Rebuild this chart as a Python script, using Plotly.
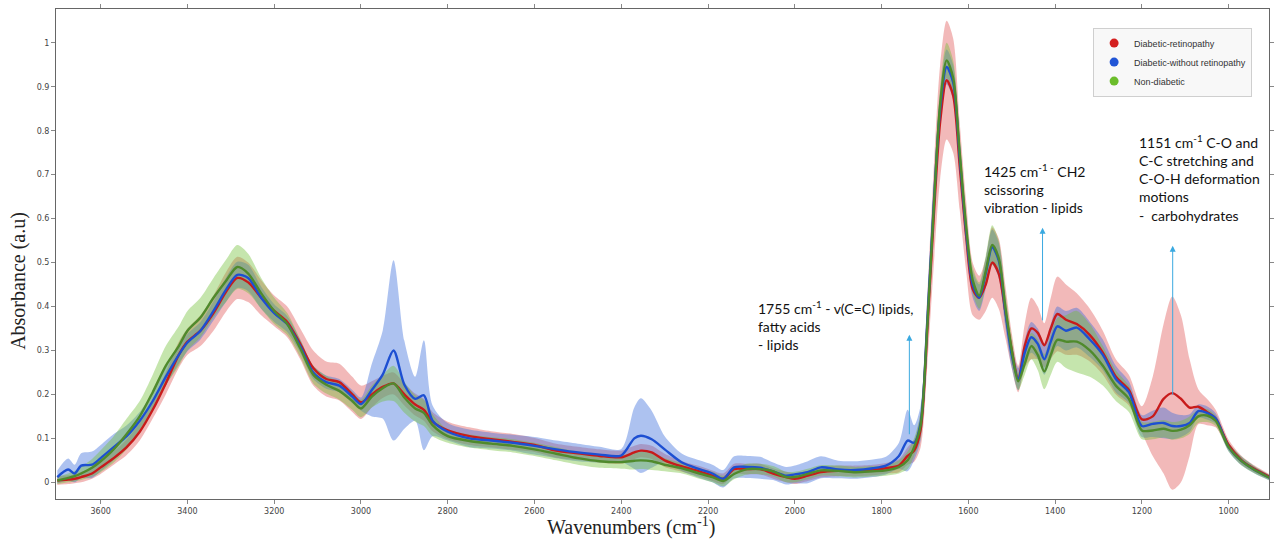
import plotly.graph_objects as go

# ---------------- data ----------------
WAVENUMBERS = [
    3700, 3675, 3660, 3645, 3620, 3600, 3570, 3540, 3510, 3480,
    3450, 3420, 3400, 3370, 3340, 3310, 3285, 3260, 3230, 3200,
    3170, 3140, 3110, 3080, 3050, 3020, 3000, 2975, 2950, 2925,
    2900, 2875, 2855, 2835, 2800, 2750, 2700, 2650, 2600, 2550,
    2500, 2450, 2400, 2370, 2355, 2330, 2300, 2260, 2220, 2190,
    2165, 2140, 2110, 2080, 2050, 2020, 2000, 1970, 1940, 1900,
    1860, 1820, 1790, 1760, 1740, 1725, 1710, 1695, 1680, 1665,
    1650, 1635, 1620, 1605, 1590, 1575, 1560, 1545, 1530, 1515,
    1500, 1485, 1470, 1455, 1440, 1425, 1410, 1395, 1375, 1350,
    1320, 1290, 1260, 1230, 1200, 1175, 1150, 1130, 1110, 1090,
    1070, 1050, 1030, 1000, 970, 940, 905,
]

retino_mean = [
    0.004, 0.006, 0.008, 0.012, 0.020, 0.034, 0.055, 0.080, 0.115, 0.165,
    0.225, 0.290, 0.320, 0.345, 0.385, 0.435, 0.465, 0.455, 0.420, 0.390,
    0.365, 0.315, 0.260, 0.235, 0.228, 0.200, 0.182, 0.200, 0.217, 0.225,
    0.200, 0.177, 0.165, 0.138, 0.118, 0.105, 0.098, 0.092, 0.085, 0.072,
    0.066, 0.060, 0.057, 0.068, 0.072, 0.068, 0.050, 0.036, 0.025, 0.015,
    0.008, 0.030, 0.030, 0.030, 0.020, 0.012, 0.008, 0.015, 0.023, 0.026,
    0.026, 0.028, 0.032, 0.038, 0.060, 0.072, 0.120, 0.340, 0.600, 0.820,
    0.915, 0.880, 0.720, 0.560, 0.440, 0.420, 0.450, 0.500, 0.475, 0.390,
    0.300, 0.235, 0.310, 0.350, 0.340, 0.312, 0.350, 0.383, 0.370, 0.360,
    0.335, 0.295, 0.240, 0.210, 0.143, 0.150, 0.190, 0.203, 0.190, 0.170,
    0.172, 0.160, 0.145, 0.085, 0.050, 0.030, 0.012,
]
retino_sd = [
    0.010, 0.010, 0.010, 0.012, 0.012, 0.015, 0.015, 0.018, 0.020, 0.020,
    0.025, 0.030, 0.030, 0.035, 0.040, 0.045, 0.048, 0.045, 0.040, 0.035,
    0.035, 0.035, 0.040, 0.040, 0.042, 0.040, 0.038, 0.030, 0.025, 0.025,
    0.025, 0.025, 0.025, 0.022, 0.020, 0.020, 0.018, 0.018, 0.016, 0.016,
    0.015, 0.015, 0.015, 0.015, 0.015, 0.015, 0.015, 0.012, 0.012, 0.012,
    0.012, 0.012, 0.012, 0.012, 0.012, 0.012, 0.012, 0.012, 0.012, 0.012,
    0.012, 0.012, 0.012, 0.015, 0.020, 0.025, 0.040, 0.080, 0.110, 0.130,
    0.135, 0.130, 0.100, 0.080, 0.060, 0.050, 0.060, 0.080, 0.080, 0.060,
    0.040, 0.030, 0.050, 0.070, 0.060, 0.050, 0.070, 0.085, 0.080, 0.070,
    0.060, 0.050, 0.040, 0.035, 0.030, 0.090, 0.170, 0.220, 0.190, 0.110,
    0.040, 0.030, 0.020, 0.012, 0.010, 0.008, 0.006,
]

without_mean = [
    0.012, 0.029, 0.020, 0.038, 0.040, 0.055, 0.080, 0.105, 0.140, 0.185,
    0.240, 0.290, 0.318, 0.345, 0.390, 0.440, 0.472, 0.465, 0.420, 0.385,
    0.360, 0.310, 0.250, 0.228, 0.220, 0.195, 0.178, 0.210, 0.245, 0.300,
    0.222, 0.190, 0.198, 0.140, 0.115, 0.100, 0.095, 0.090, 0.083, 0.075,
    0.068, 0.063, 0.061, 0.100, 0.106, 0.098, 0.075, 0.045, 0.030, 0.020,
    0.008, 0.034, 0.035, 0.033, 0.025, 0.015, 0.018, 0.023, 0.034, 0.029,
    0.028, 0.032, 0.038, 0.060, 0.095, 0.090, 0.135, 0.360, 0.630, 0.850,
    0.945, 0.910, 0.740, 0.570, 0.450, 0.420, 0.475, 0.535, 0.505, 0.390,
    0.290, 0.235, 0.295, 0.330, 0.315, 0.280, 0.320, 0.355, 0.345, 0.352,
    0.325, 0.290, 0.235, 0.205, 0.128, 0.133, 0.135, 0.128, 0.128, 0.135,
    0.162, 0.158, 0.145, 0.080, 0.048, 0.028, 0.010,
]
without_sd = [
    0.015, 0.025, 0.020, 0.028, 0.030, 0.030, 0.030, 0.025, 0.020, 0.020,
    0.020, 0.020, 0.020, 0.020, 0.022, 0.028, 0.030, 0.030, 0.025, 0.020,
    0.018, 0.015, 0.015, 0.015, 0.015, 0.015, 0.015, 0.060, 0.100, 0.205,
    0.100, 0.050, 0.125, 0.035, 0.020, 0.020, 0.018, 0.018, 0.020, 0.020,
    0.020, 0.018, 0.015, 0.070, 0.085, 0.065, 0.030, 0.020, 0.020, 0.020,
    0.020, 0.025, 0.025, 0.025, 0.020, 0.020, 0.020, 0.025, 0.025, 0.020,
    0.020, 0.020, 0.020, 0.030, 0.070, 0.040, 0.040, 0.040, 0.040, 0.040,
    0.040, 0.040, 0.040, 0.035, 0.030, 0.030, 0.035, 0.040, 0.040, 0.035,
    0.030, 0.025, 0.030, 0.035, 0.035, 0.035, 0.040, 0.045, 0.045, 0.045,
    0.040, 0.035, 0.030, 0.025, 0.025, 0.030, 0.035, 0.030, 0.025, 0.020,
    0.015, 0.015, 0.012, 0.010, 0.010, 0.008, 0.006,
]

nondiab_mean = [
    0.004, 0.010, 0.014, 0.020, 0.033, 0.048, 0.075, 0.110, 0.150, 0.205,
    0.265, 0.310, 0.345, 0.375, 0.420, 0.460, 0.490, 0.475, 0.430, 0.390,
    0.360, 0.305, 0.245, 0.222, 0.208, 0.185, 0.168, 0.195, 0.214, 0.225,
    0.193, 0.168, 0.158, 0.130, 0.105, 0.094, 0.088, 0.083, 0.075, 0.065,
    0.055, 0.048, 0.046, 0.049, 0.050, 0.048, 0.040, 0.032, 0.020, 0.012,
    0.003, 0.019, 0.030, 0.030, 0.025, 0.012, 0.012, 0.019, 0.027, 0.026,
    0.023, 0.025, 0.027, 0.035, 0.050, 0.080, 0.130, 0.350, 0.620, 0.860,
    0.960, 0.920, 0.750, 0.580, 0.460, 0.425, 0.480, 0.540, 0.510, 0.400,
    0.300, 0.230, 0.270, 0.310, 0.290, 0.252, 0.290, 0.324, 0.320, 0.320,
    0.300, 0.265, 0.220, 0.190, 0.118, 0.118, 0.122, 0.117, 0.120, 0.130,
    0.150, 0.152, 0.140, 0.080, 0.048, 0.028, 0.010,
]
nondiab_sd = [
    0.008, 0.010, 0.012, 0.015, 0.020, 0.025, 0.030, 0.035, 0.035, 0.040,
    0.045, 0.045, 0.045, 0.045, 0.045, 0.048, 0.050, 0.045, 0.035, 0.030,
    0.025, 0.020, 0.020, 0.020, 0.020, 0.020, 0.020, 0.025, 0.030, 0.040,
    0.035, 0.030, 0.030, 0.025, 0.015, 0.015, 0.015, 0.015, 0.015, 0.015,
    0.015, 0.015, 0.015, 0.020, 0.020, 0.020, 0.015, 0.012, 0.012, 0.012,
    0.012, 0.012, 0.012, 0.012, 0.012, 0.012, 0.012, 0.012, 0.012, 0.012,
    0.012, 0.012, 0.012, 0.015, 0.020, 0.020, 0.030, 0.040, 0.040, 0.040,
    0.040, 0.040, 0.040, 0.035, 0.030, 0.030, 0.035, 0.045, 0.040, 0.035,
    0.030, 0.020, 0.025, 0.030, 0.035, 0.040, 0.045, 0.050, 0.060, 0.070,
    0.060, 0.045, 0.035, 0.030, 0.020, 0.020, 0.020, 0.020, 0.020, 0.020,
    0.015, 0.015, 0.012, 0.010, 0.010, 0.008, 0.006,
]

SERIES_NAMES = ["Diabetic-retinopathy", "Diabetic-without retinopathy", "Non-diabetic"]
X_TICKS = [3600, 3400, 3200, 3000, 2800, 2600, 2400, 2200, 2000, 1800, 1600, 1400, 1200, 1000]
Y_TICKS = [0, 0.1, 0.2, 0.3, 0.4, 0.5, 0.6, 0.7, 0.8, 0.9, 1.0]
Y_TICK_TEXT = ["0", "0.1", "0.2", "0.3", "0.4", "0.5", "0.6", "0.7", "0.8", "0.9", "1"]

# annotations: (text, text anchor wavenumber, text top absorbance, arrow wn, arrow tail, arrow head)
NOTES = [
    ("1755 cm<sup>-1</sup> - v(C=C) lipids,<br>fatty acids<br>- lipids", 2089, 0.424, 1736, 0.106, 0.336),
    ("1425 cm<sup>-1 -</sup> CH2<br>scissoring<br>vibration - lipids", 1568, 0.735, 1429, 0.365, 0.579),
    ("1151 cm<sup>-1</sup> C-O and<br>C-C stretching and<br>C-O-H deformation<br>motions<br>-  carbohydrates", 1212, 0.802, 1129, 0.196, 0.538),
]

for arr in (retino_mean, retino_sd, without_mean, without_sd, nondiab_mean, nondiab_sd):
    assert len(arr) == len(WAVENUMBERS), len(arr)

series = [
    (SERIES_NAMES[0], retino_mean, retino_sd, "rgba(220,60,60,0.36)", "#c81b1b", "#d42020"),
    (SERIES_NAMES[1], without_mean, without_sd, "rgba(60,110,220,0.42)", "#1d4fd2", "#2155d6"),
    (SERIES_NAMES[2], nondiab_mean, nondiab_sd, "rgba(110,190,50,0.40)", "#4f8a2c", "#6bbd2b"),
]

fig = go.Figure()

# bands (mean +/- sd)
for name, m, s, fillc, linec, legc in series:
    upper = [a + b for a, b in zip(m, s)]
    lower = [a - b for a, b in zip(m, s)]
    fig.add_trace(go.Scatter(x=WAVENUMBERS, y=upper, mode="lines",
                             line=dict(width=0, shape="spline", smoothing=0.8),
                             showlegend=False, hoverinfo="skip"))
    fig.add_trace(go.Scatter(x=WAVENUMBERS, y=lower, mode="lines", fill="tonexty",
                             fillcolor=fillc,
                             line=dict(width=0, shape="spline", smoothing=0.8),
                             showlegend=False, hoverinfo="skip"))

# mean lines
for name, m, s, fillc, linec, legc in series:
    fig.add_trace(go.Scatter(x=WAVENUMBERS, y=m, mode="lines", name=name,
                             line=dict(color=linec, width=2.4, shape="spline", smoothing=0.8),
                             showlegend=False))

# legend entries (dots)
for name, m, s, fillc, linec, legc in series:
    fig.add_trace(go.Scatter(x=[None], y=[None], mode="markers", name=name,
                             marker=dict(color=legc, size=9, symbol="circle")))

annotations = []
for text, tx, ty, axw, y0, y1 in NOTES:
    annotations.append(dict(x=tx, y=ty, xref="x", yref="y", text=text, showarrow=False,
                            xanchor="left", yanchor="top", align="left",
                            font=dict(family="Lato, Carlito, sans-serif", size=14, color="#111")))
    annotations.append(dict(x=axw, y=y1, ax=axw, ay=y0, xref="x", yref="y", axref="x", ayref="y",
                            text="", showarrow=True, arrowhead=2, arrowsize=1.2, arrowwidth=1,
                            arrowcolor="#3aa9e0"))

annotations.append(dict(x=-0.031, y=0.446, xref="paper", yref="paper", text="Absorbance (a.u)",
                        textangle=-90, showarrow=False, xanchor="center", yanchor="middle",
                        font=dict(family="Liberation Serif, Times New Roman, serif", size=20, color="#222")))
annotations.append(dict(x=0.474, y=-0.057, xref="paper", yref="paper",
                        text="Wavenumbers (cm<sup>-1</sup>)",
                        showarrow=False, xanchor="center", yanchor="middle",
                        font=dict(family="Liberation Serif, Times New Roman, serif", size=20, color="#222")))

fig.update_layout(
    width=1278, height=544,
    margin=dict(l=56, r=7, t=4, b=45),
    paper_bgcolor="white", plot_bgcolor="white",
    xaxis=dict(range=[3703, 907], tickmode="array", tickvals=X_TICKS,
               ticktext=[str(v) for v in X_TICKS],
               showgrid=False, zeroline=False, showline=True, linecolor="#666", linewidth=1,
               mirror="ticks", ticks="outside", ticklen=4, tickcolor="#888",
               tickfont=dict(family="DejaVu Sans, sans-serif", size=8, color="#444")),
    yaxis=dict(range=[-0.038, 1.077], tickmode="array", tickvals=Y_TICKS, ticktext=Y_TICK_TEXT,
               showgrid=False, zeroline=False, showline=True, linecolor="#666", linewidth=1,
               mirror="ticks", ticks="outside", ticklen=4, tickcolor="#888",
               tickfont=dict(family="DejaVu Sans, sans-serif", size=8, color="#444")),
    legend=dict(x=0.855, y=0.962, xanchor="left", yanchor="top",
                bgcolor="#f8f8f8", bordercolor="#cfcfcf", borderwidth=1,
                font=dict(family="Liberation Sans, Arial, sans-serif", size=9, color="#333"),
                itemwidth=30, tracegroupgap=0, traceorder="normal"),
    annotations=annotations,
    showlegend=True,
)

fig.write_html("out.html")
